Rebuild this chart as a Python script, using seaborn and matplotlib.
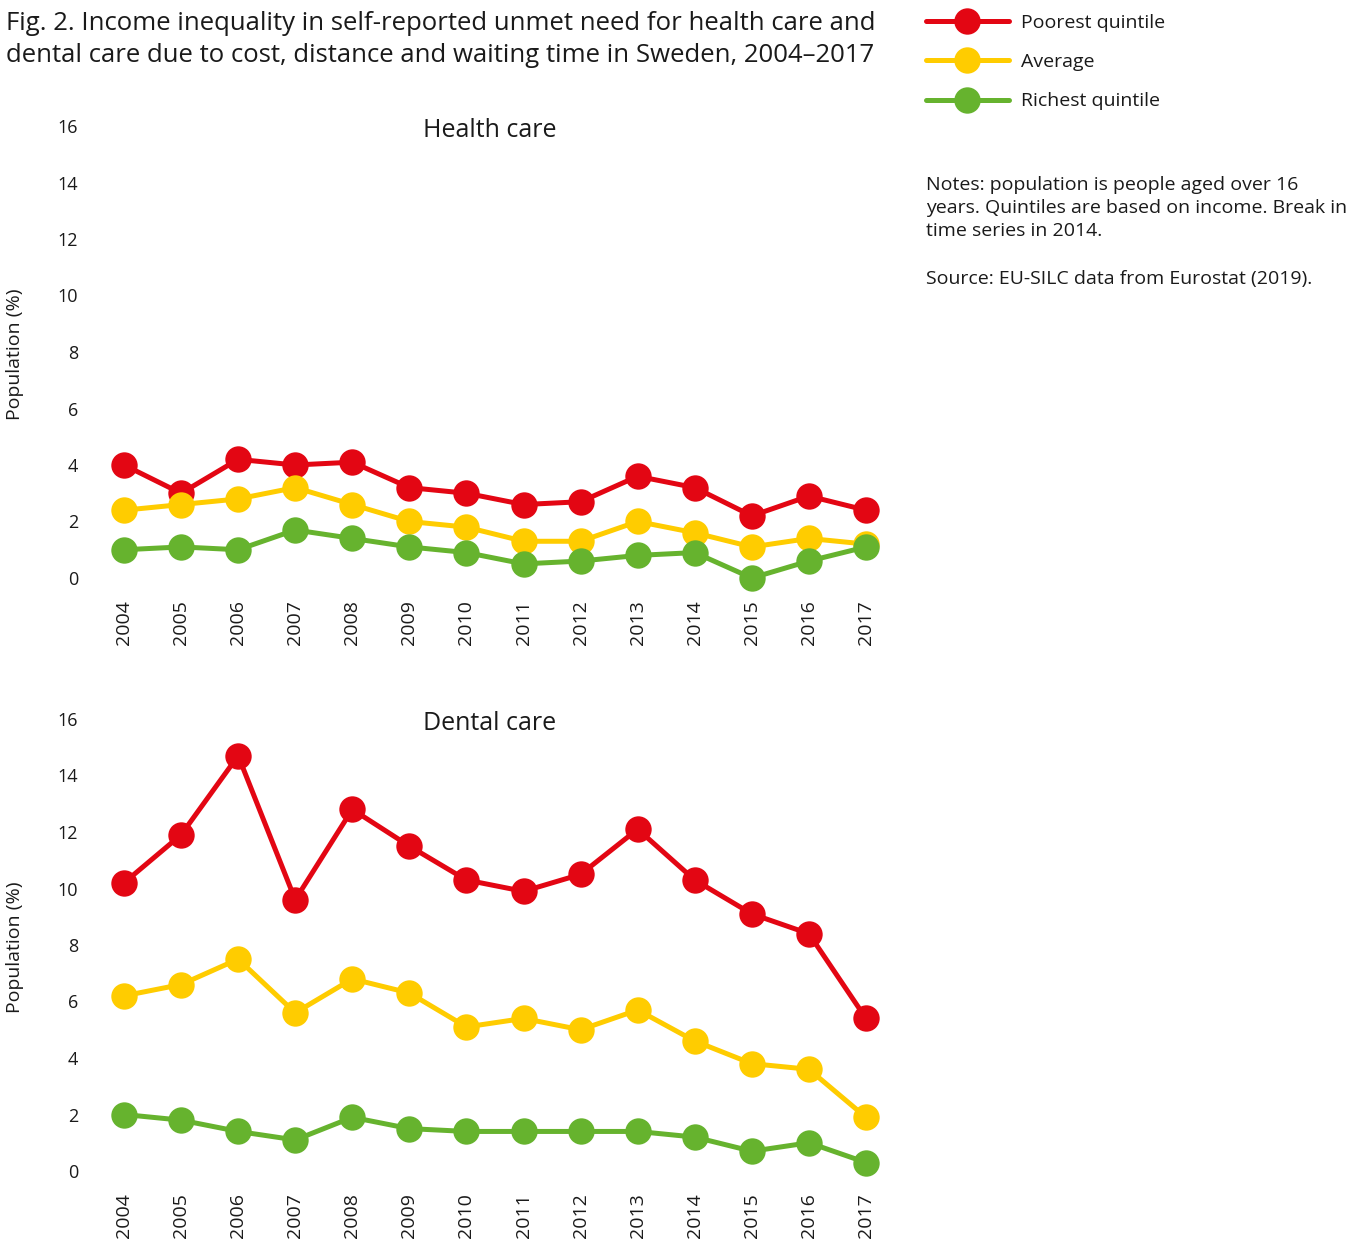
import matplotlib
matplotlib.use("Agg")
import matplotlib.pyplot as plt
import seaborn as sns
import pandas as pd
from matplotlib.lines import Line2D

years = list(range(2004, 2018))
groups = ["Poorest quintile", "Average", "Richest quintile"]
colors = ["#E30613", "#FFCC00", "#66B32E"]

health_poorest = [4.0, 3.0, 4.2, 4.0, 4.1, 3.2, 3.0, 2.6, 2.7, 3.6, 3.2, 2.2, 2.9, 2.4]
health_average = [2.4, 2.6, 2.8, 3.2, 2.6, 2.0, 1.8, 1.3, 1.3, 2.0, 1.6, 1.1, 1.4, 1.2]
health_richest = [1.0, 1.1, 1.0, 1.7, 1.4, 1.1, 0.9, 0.5, 0.6, 0.8, 0.9, 0.0, 0.6, 1.1]

dental_poorest = [10.2, 11.9, 14.7, 9.6, 12.8, 11.5, 10.3, 9.9, 10.5, 12.1, 10.3, 9.1, 8.4, 5.4]
dental_average = [6.2, 6.6, 7.5, 5.6, 6.8, 6.3, 5.1, 5.4, 5.0, 5.7, 4.6, 3.8, 3.6, 1.9]
dental_richest = [2.0, 1.8, 1.4, 1.1, 1.9, 1.5, 1.4, 1.4, 1.4, 1.4, 1.2, 0.7, 1.0, 0.3]

y_ticks = [0, 2, 4, 6, 8, 10, 12, 14, 16]
panel_titles = ["Health care", "Dental care"]


def make_df(p, a, r):
    rows = []
    for g, vals in zip(groups, [p, a, r]):
        for y, v in zip(years, vals):
            rows.append({"year": y, "value": v, "group": g})
    return pd.DataFrame(rows)


sns.set_theme(style="white")
plt.rcParams["font.family"] = ["Open Sans", "DejaVu Sans"]

W, H = 1355, 1251
fig = plt.figure(figsize=(W / 100, H / 100), dpi=100)

left = 124 / W
width = (866 - 124) / W
panels = [
    (make_df(health_poorest, health_average, health_richest), 578),
    (make_df(dental_poorest, dental_average, dental_richest), 1171),
]
axh = 452 / H
txt = "#1a1a1a"

for i, (df, ybottom) in enumerate(panels):
    ax = fig.add_axes([left, 1 - ybottom / H, width, axh])
    sns.lineplot(data=df, x="year", y="value", hue="group", hue_order=groups,
                 palette=colors, marker="o", markersize=19, linewidth=3.6,
                 markeredgewidth=0, legend=False, ax=ax, clip_on=False)
    ax.set_xlim(2004, 2017)
    ax.set_ylim(0, 16)
    ax.set_yticks(y_ticks)
    ax.set_yticklabels([str(t) for t in y_ticks], fontsize=13, color=txt)
    ax.set_xticks(years)
    ax.set_xticklabels([str(y) for y in years], rotation=90, fontsize=14,
                       color=txt)
    ax.tick_params(axis="y", length=0, pad=33)
    ax.tick_params(axis="x", length=0, pad=16)
    for s in ax.spines.values():
        s.set_visible(False)
    ax.set_xlabel("")
    ax.set_ylabel("")
    ax.grid(False)
    ax.patch.set_alpha(0)
    ax.text(0.493, 0.99, panel_titles[i], transform=ax.transAxes, ha="center",
            va="center", fontsize=18, color=txt)
    ycenter = ybottom - 224
    fig.text(15 / W, 1 - ycenter / H, "Population (%)", rotation=90,
             ha="center", va="center", fontsize=14, color=txt)

fig.text(6 / W, 1 - 23 / H,
         "Fig. 2. Income inequality in self-reported unmet need for health care and",
         ha="left", va="center", fontsize=18.5, color=txt)
fig.text(6 / W, 1 - 55 / H,
         "dental care due to cost, distance and waiting time in Sweden, 2004\u20132017",
         ha="left", va="center", fontsize=18.5, color=txt)

handles = [Line2D([0], [0], color=c, lw=3.6, marker="o", markersize=19,
                  markeredgewidth=0) for c in colors]
leg = fig.legend(handles, groups, loc="upper left",
                 bbox_to_anchor=(912 / W, 1 - 0 / H), frameon=False,
                 fontsize=14, handlelength=4.3, handletextpad=0.62,
                 labelspacing=1.1, borderaxespad=0.3)
for t in leg.get_texts():
    t.set_color(txt)

notes = ["Notes: population is people aged over 16",
         "years. Quintiles are based on income. Break in",
         "time series in 2014."]
for k, line in enumerate(notes):
    fig.text(926 / W, 1 - (185 + 23 * k) / H, line, ha="left", va="center",
             fontsize=14, color=txt)
fig.text(926 / W, 1 - 279 / H, "Source: EU-SILC data from Eurostat (2019).",
         ha="left", va="center", fontsize=14, color=txt)

fig.savefig("out.png", dpi=100)
